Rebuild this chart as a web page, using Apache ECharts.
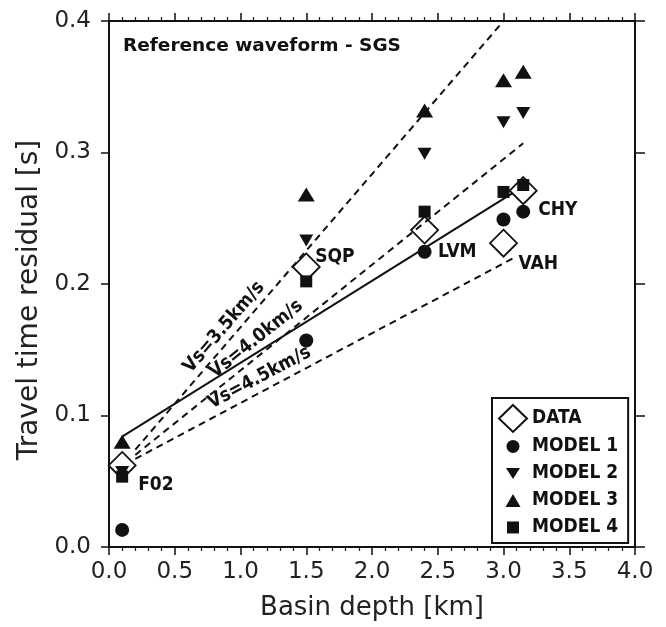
<!DOCTYPE html>
<html><head><meta charset="utf-8">
<script src="https://cdn.jsdelivr.net/npm/echarts@6/dist/echarts.min.js"></script>
<style>html,body{margin:0;padding:0;background:#fff}#c{width:666px;height:627px}</style>
</head><body><div id="c"></div>
<script>
// ---- data ----
const depths   = [0.1, 1.5, 2.4, 3.0, 3.15];
const stations = ['F02', 'SQP', 'LVM', 'VAH', 'CHY'];
const dataObs  = [0.062, 0.213, 0.241, 0.231, 0.271];
const model1   = [0.013, 0.157, 0.2245, 0.249, 0.255];
const model2   = [0.057, 0.233, 0.299, 0.323, 0.330];
const model3   = [0.080, 0.268, 0.332, 0.355, 0.3615];
const model4   = [0.0535, 0.202, 0.255, 0.270, 0.2753];
const fitLine  = [[0.1, 0.084], [3.1, 0.271]];
const vsNames  = ['Vs=3.5km/s', 'Vs=4.0km/s', 'Vs=4.5km/s'];
const vsLines  = [[[0.2, 0.074], [3.0, 0.4]], [[0.2, 0.070], [3.15, 0.307]], [[0.2, 0.067], [3.1, 0.221]]];
const legendNames = ['DATA', 'MODEL 1', 'MODEL 2', 'MODEL 3', 'MODEL 4'];
const titleText = 'Reference waveform - SGS';
const xName = 'Basin depth [km]';
const yName = 'Travel time residual [s]';

// ---- styling ----
const INK = '#111';
const FONT = 'DejaVu Sans';
const CFONT = "'DejaVu Sans Condensed', 'DejaVu Sans'";
const labelOffsets = [[16, 20], [9, -10], [13.5, 21.7], [15, 21], [15, 19.3]];
const vsLabelDist = [[94, 3], [110, 5], [91, 4]];
const legendIcons = [
  'path://M14,0.5L27.5,13.5L14,26.5L0.5,13.5Z',
  'path://M0,0M28,27M20.5,13.5A6.5,6.5,0,1,1,7.5,13.5A6.5,6.5,0,1,1,20.5,13.5Z',
  'path://M0,0M28,27M7,8L21,8L14,19Z',
  'path://M0,0M28,27M14,7L21.5,20L6.5,20Z',
  'path://M0,0M28,27M8,7.5L20,7.5L20,19.5L8,19.5Z'
];

function pts(ys) { return depths.map((d, i) => [d, ys[i]]); }

const axisCommon = {
  type: 'value',
  axisLine: { show: true, onZero: false, lineStyle: { color: INK, width: 2 } },
  axisTick: { show: true, inside: false, length: 8, lineStyle: { color: INK, width: 1.5 } },
  splitLine: { show: false }
};
const minorX = { show: true, splitNumber: 5, length: 4, lineStyle: { color: INK, width: 1.2 } };
const tickLabel = { fontSize: 23, fontFamily: FONT, color: '#222' };
const solid = { color: INK, opacity: 1 };

const chart = echarts.init(document.getElementById('c'), null, { renderer: 'canvas' });
chart.setOption({
  animation: false,
  backgroundColor: '#fff',
  title: {
    text: titleText, left: 123, top: 37, padding: 0,
    textStyle: { fontSize: 18.5, fontWeight: 'bold', fontFamily: FONT, color: INK }
  },
  grid: { left: 109, right: 31, top: 21, bottom: 80, containLabel: false },
  legend: {
    orient: 'vertical', left: 492, top: 398,
    padding: [6, 10, 2, 6], itemGap: 0, itemWidth: 28, itemHeight: 27,
    borderColor: INK, borderWidth: 2, backgroundColor: '#fff',
    selectedMode: false,
    textStyle: { fontSize: 19, fontWeight: 'bold', fontFamily: CFONT, color: INK },
    data: legendNames.map((n, i) => ({ name: n, icon: legendIcons[i] }))
  },
  xAxis: [
    Object.assign({}, axisCommon, {
      position: 'bottom', min: 0, max: 4, interval: 0.5, minorTick: minorX,
      axisLabel: Object.assign({ formatter: v => v.toFixed(1), margin: 14 }, tickLabel),
      name: xName, nameLocation: 'middle', nameGap: 48,
      nameTextStyle: { fontSize: 26, fontFamily: FONT, color: '#222' }
    }),
    Object.assign({}, axisCommon, {
      position: 'top', min: 0, max: 4, interval: 0.5, minorTick: minorX,
      axisLabel: { show: false }
    })
  ],
  yAxis: [
    Object.assign({}, axisCommon, {
      position: 'left', min: 0, max: 0.4, interval: 0.1,
      axisLabel: Object.assign({ formatter: v => v.toFixed(1), margin: 18 }, tickLabel),
      name: yName, nameLocation: 'middle', nameGap: 62,
      nameTextStyle: { fontSize: 28, fontFamily: FONT, color: '#222', padding: [0, 32, 0, 0] }
    }),
    Object.assign({}, axisCommon, {
      position: 'right', min: 0, max: 0.4, interval: 0.1,
      axisTick: { show: true, inside: false, length: 10, lineStyle: { color: INK, width: 1.5 } },
      axisLabel: { show: false }
    })
  ],
  series: [
    {
      type: 'line', name: 'fit', data: fitLine, symbol: 'none',
      lineStyle: { color: INK, width: 2 }, silent: true, z: 1
    },
    {
      type: 'line', name: 'vs', data: [], silent: true, z: 1,
      markLine: {
        silent: true, symbol: ['none', 'none'], animation: false,
        emphasis: { disabled: true },
        lineStyle: { type: [7, 5], width: 2, color: INK },
        label: { show: true, position: 'insideStartTop', fontSize: 19, fontWeight: 'bold', fontFamily: CFONT, color: INK },
        data: vsLines.map((l, i) => [
          { coord: l[0], name: vsNames[i], label: { formatter: '{b}', distance: vsLabelDist[i] } },
          { coord: l[1] }
        ])
      }
    },
    {
      type: 'scatter', name: 'DATA', symbol: 'diamond', symbolSize: 27, z: 2,
      itemStyle: { color: '#fff', borderColor: INK, borderWidth: 1.8, opacity: 1 },
      label: {
        show: true, position: 'inside', align: 'left', verticalAlign: 'middle',
        formatter: p => stations[p.dataIndex],
        fontSize: 19, fontWeight: 'bold', fontFamily: CFONT, color: INK, textBorderWidth: 0
      },
      data: pts(dataObs).map((p, i) => ({ value: p, label: { offset: labelOffsets[i] } }))
    },
    { type: 'scatter', name: 'MODEL 1', symbol: 'circle', symbolSize: 14, itemStyle: solid, data: pts(model1), z: 2 },
    { type: 'scatter', name: 'MODEL 2', symbol: 'path://M0,0L14,0L7,12Z', symbolSize: [14, 12], itemStyle: solid, data: pts(model2), z: 2 },
    { type: 'scatter', name: 'MODEL 3', symbol: 'triangle', symbolSize: [17, 14], itemStyle: solid, data: pts(model3), z: 2 },
    { type: 'scatter', name: 'MODEL 4', symbol: 'rect', symbolSize: 12, itemStyle: solid, data: pts(model4), z: 2 }
  ]
});
</script>
</body></html>
